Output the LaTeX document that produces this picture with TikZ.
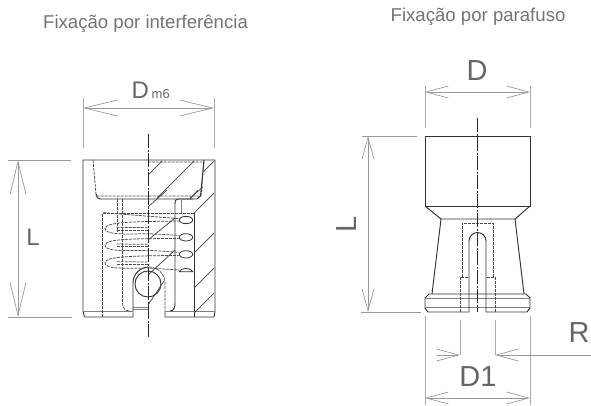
\documentclass[tikz,border=0pt]{standalone}
\usepackage{fontspec}
\setmainfont{Liberation Sans}
\usetikzlibrary{arrows.meta}
\tikzset{
 dimline/.style={draw=black!40,line width=0.8pt},
 extline/.style={draw=black!33,line width=0.9pt},
 dimarrow/.style={dimline,{Straight Barb[length=33pt,width=16pt,line width=0.7pt]}-{Straight Barb[length=33pt,width=16pt,line width=0.7pt]}},
 dimarrowb/.style={dimline,{Straight Barb[length=22pt,width=12pt,line width=0.7pt]}-{Straight Barb[length=22pt,width=12pt,line width=0.7pt]}},
 oneend/.style={dimline,-{Straight Barb[length=22pt,width=12pt,line width=0.7pt]}},
 part/.style={draw=black!80,line width=0.95pt},
 thinpart/.style={draw=black!50,line width=0.8pt},
 hid/.style={draw=black!70,line width=0.75pt,dash pattern=on 3pt off 1pt},
 axis/.style={draw=black!85,line width=0.7pt,dash pattern=on 14pt off 1.5pt on 2pt off 1.5pt},
 hatch/.style={draw=black!75,line width=0.7pt},
 title/.style={text=black!55,font=\fontsize{18.6}{20}\selectfont,inner sep=0pt,anchor=base west},
 dimtext/.style={text=black!60,font=\fontsize{29}{32}\selectfont,inner sep=0pt}
}
\begin{document}
\begin{tikzpicture}[x=1pt,y=-1pt]
\useasboundingbox (0,0) rectangle (591,405);
% titles
\node[title] (t1) at (43,28) {Fixação por interferência};
\node[title] (t2) at (390.5,21) {Fixação por parafuso};
% ---- left part: dimensions
\draw[extline] (83,98) -- (83,148) (214,98) -- (214,148);
\draw[dimarrow] (83,108) -- (214,108);
\node[dimtext,font=\fontsize{24}{26}\selectfont,anchor=base west] (dm) at (131.5,98.5) {D};
\node[dimtext,font=\fontsize{13}{14}\selectfont,anchor=base west] (m6) at (151.5,98) {m6};
\draw[dimline,line width=.6pt] (8,160) -- (71,160) (8,317) -- (72,317);
\draw[dimarrow] (18,160) -- (18,317);
\node[dimtext,font=\fontsize{24}{26}\selectfont] (l1) at (33,237) {L};
% body
\draw[part] (84.5,317) -- (83,311) -- (83,160) -- (215,160) -- (215,311) -- (214,317) -- (165,317) -- (165,311)
 (133,311) -- (133,317) -- (84.5,317);
\draw[thinpart] (83,311) -- (133,311) (165,311) -- (215,311) (133,307) -- (148,307) (133,309) -- (148,309);
% pocket
\draw[hid] (93,160) -- (96,194) -- (97,196) -- (201,196) -- (204,162) -- (148,162);
\draw[part] (96,194) .. controls (96.5,197) and (97.5,199) .. (100,199) -- (193,199);
\draw[part] (204,160) -- (200.5,196) -- (197,199) -- (178,199) .. controls (175,199) and (175,201) .. (175,204) -- (175,303) .. controls (175,307) and (174,311) .. (170,311);
\draw[thinpart] (181,200) -- (181,213);
\draw[part] (194,213) -- (194,317);
% hidden bore
\draw[hid] (102.5,317) -- (102.5,213) -- (194,213);
\draw[hid] (117,199) -- (117,232);
\draw[hid] (122.5,199) -- (122.5,303) .. controls (122.5,308) and (125,311) .. (130,311);
% round notch
\draw[part] (133,311) -- (133,283) arc[start angle=180,end angle=270,radius=16];
\draw[hid] (149,267) arc[start angle=270,end angle=360,radius=16] -- (165,311);
\draw[part] (148,284) circle[radius=13];
% coil
\begin{scope}[shift={(60,190)},x=0.3333pt,y=-0.3333pt]
\draw[hid] (130,68) -- (358,86);
\foreach \e/\t/\n in {90/115/136,142/165/187,193/218/240}{
 \draw[hid] (360,\e+3) .. controls (260,\e+5) and (135,\t-22) .. (135,\t) .. controls (135,\t+18) and (180,\t+18) .. (265,\t+16) -- (358,\n);
 \draw[hid] (170,\t-3) -- (265,\t-2);
 \draw[hid] (170,\t+5) -- (265,\t+5);
 \draw[part,line width=.8pt] (378,\e) ellipse[x radius=20,y radius=11];
}
\draw[part,line width=.8pt] (358,245) .. controls (362,232) and (394,232) .. (398,245) -- cycle;
\end{scope}
% hatches
\foreach \a/\b/\c/\d in {
 162/161/148/175, 194/161/157/198, 214/161/204/171, 203/187/190/198,
 167/190/148/207, 198/190/190/199, 214/193/194/213, 214/233/194/253, 214/268/194/288, 214/293/194/313,
 175/218/148/240, 175/250/148/275, 164/281/148/305}
 {\draw[hatch] (\a,\b) -- (\c,\d);}
% axis
\draw[axis] (148,134) -- (148,337);
% ---- right part: dimensions
\draw[extline] (425,86) -- (425,128) (530,86) -- (530,128);
\draw[dimarrowb] (425,92) -- (530,92);
\node[dimtext] (d) at (477,71) {D};
\draw[dimline,line width=.6pt] (362,136) -- (417,136) (361,312) -- (421,312);
\draw[dimarrowb] (368,136) -- (368,312);
\node[dimtext,rotate=90] (l2) at (346.5,224) {L};
\draw[extline] (425,316) -- (425,405) (530,316) -- (530,405);
\draw[extline] (460,320) -- (460,355) (495,320) -- (495,355);
\draw[oneend] (437,355) -- (460,355);
\draw[oneend] (591,355) -- (495,355);
\draw[dimarrowb] (425,398) -- (530,398);
\node[dimtext] (d1) at (478,377) {D1};
\node[dimtext] (r) at (579,333) {R};
% body
\draw[part] (425,136) rectangle (530,206);
\draw[part] (425,206) -- (441,219) -- (515,219) -- (530,206);
\draw[part] (441,219) -- (432,294) (515,219) -- (524,294);
\draw[part] (469,312) -- (428,312) -- (425,308) -- (425,298) -- (429,294) -- (526,294) -- (530,298) -- (530,308) -- (527,312) -- (486,312);
\draw[thinpart] (425,298) -- (530,298) (425,307) -- (530,307);
\draw[part] (469,312) -- (469,241) arc[start angle=180,end angle=360,radius=8.5] -- (486,312);
\draw[hid] (462,277) -- (462,223) -- (493,223) -- (493,277);
\draw[hid] (460,312) -- (460,277) -- (468,277) (495,312) -- (495,277) -- (487,277);
\draw[axis] (477,118) -- (477,312);
\end{tikzpicture}
\end{document}
